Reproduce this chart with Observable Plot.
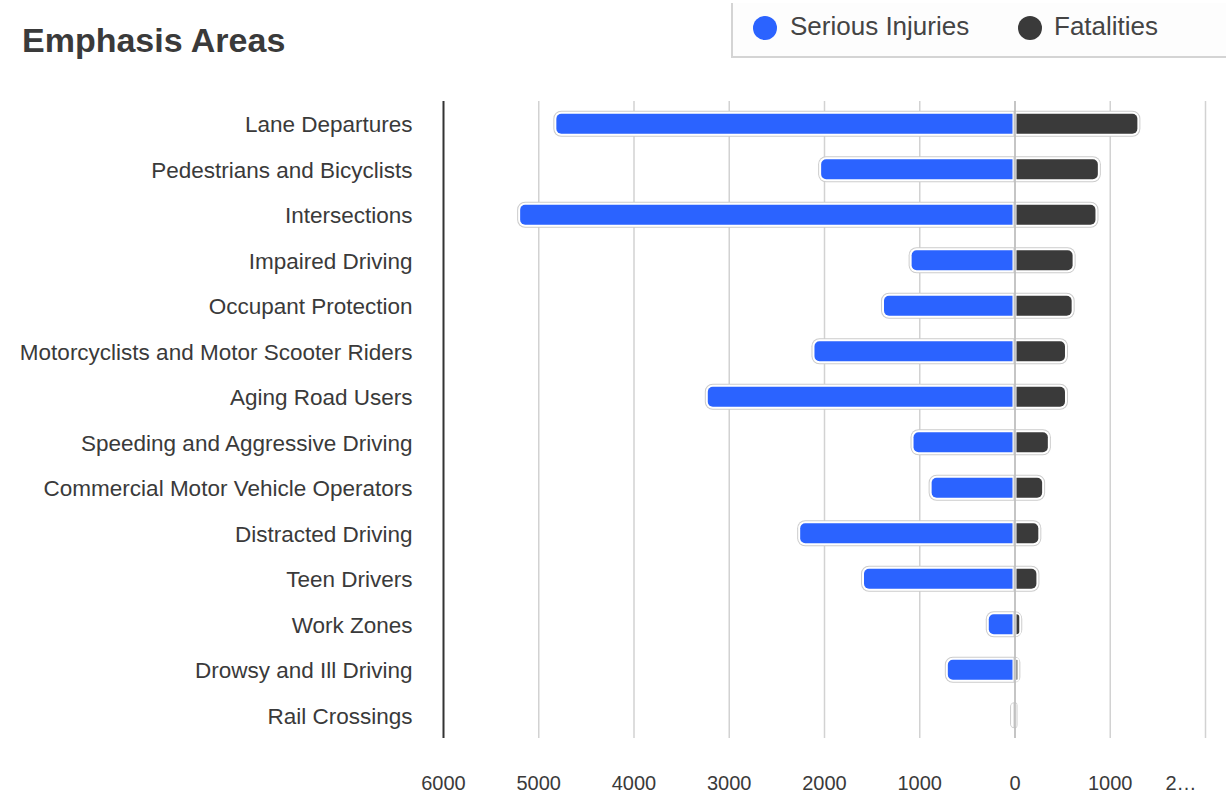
<!DOCTYPE html>
<html>
<head>
<meta charset="utf-8">
<script src="https://cdn.jsdelivr.net/npm/d3@7"></script>
<script src="https://cdn.jsdelivr.net/npm/@observablehq/plot@0.6"></script>
<style>
  html, body { margin: 0; padding: 0; background: #fff; }
  #wrap { position: relative; width: 1226px; height: 795px; overflow: hidden; font-family: "Liberation Sans", Arial, sans-serif; }
  #title { position: absolute; left: 22px; top: 23px; font-size: 34px; line-height: 1; font-weight: bold; color: #3a3a3a; }
  #legend { position: absolute; left: 731px; top: 3px; width: 495px; height: 55px; background: #fdfdfd;
            border-left: 2px solid #d4d4d4; border-bottom: 2px solid #d4d4d4; box-sizing: border-box; }
  .dot { position: absolute; width: 24px; height: 24px; border-radius: 50%; top: 13px; }
  .lab { position: absolute; top: 8px; font-size: 26px; line-height: 1.2; color: #444; }
  #chart { position: absolute; left: 0; top: 0; }
</style>
</head>
<body>
<div id="wrap">
  <div id="chart"></div>
  <div id="title">Emphasis Areas</div>
  <div id="legend"></div>
</div>
<script>
const categories = [
  "Lane Departures",
  "Pedestrians and Bicyclists",
  "Intersections",
  "Impaired Driving",
  "Occupant Protection",
  "Motorcyclists and Motor Scooter Riders",
  "Aging Road Users",
  "Speeding and Aggressive Driving",
  "Commercial Motor Vehicle Operators",
  "Distracted Driving",
  "Teen Drivers",
  "Work Zones",
  "Drowsy and Ill Driving",
  "Rail Crossings"
];
const seriousInjuries = [4810, 2030, 5190, 1080, 1370, 2100, 3220, 1060, 870, 2250, 1580, 270, 700, 15];
const fatalities = [1290, 875, 850, 610, 600, 530, 530, 350, 290, 250, 230, 50, 30, 0];
const xTicks = [-6000, -5000, -4000, -3000, -2000, -1000, 0, 1000, 2000];
const seriesNames = ["Serious Injuries", "Fatalities"];
const seriesColors = ["#2b63ff", "#3a3a3a"];

const rows = categories.map((c, i) => ({category: c, inj: seriousInjuries[i], fat: fatalities[i]}));

// legend
const legend = document.getElementById("legend");
const legendPos = [{dot: 20, lab: 57}, {dot: 285, lab: 321}];
seriesNames.forEach((name, i) => {
  const d = document.createElement("div");
  d.className = "dot"; d.style.left = legendPos[i].dot + "px"; d.style.background = seriesColors[i];
  legend.appendChild(d);
  const t = document.createElement("div");
  t.className = "lab"; t.style.left = legendPos[i].lab + "px"; t.textContent = name;
  legend.appendChild(t);
});

const blueX = {y: "category", x1: d => -d.inj, x2: () => 0};
const darkX = {y: "category", x1: () => 0, x2: d => d.fat};

const fmt = d => String(Math.abs(d));

const chart = Plot.plot({
  width: 1226,
  height: 795,
  marginTop: 101,
  marginBottom: 57,
  marginLeft: 443,
  marginRight: 21,
  style: {fontFamily: "'Liberation Sans', Arial, sans-serif", background: "transparent"},
  x: {domain: [-6000, 2000], axis: null},
  y: {domain: categories, paddingInner: 0.56, paddingOuter: 0.28, round: false, axis: null},
  marks: [
    Plot.ruleX(xTicks.filter(d => d > -6000), {stroke: "#d2d2d2", strokeWidth: 1.5}),
    // serious injuries (outline + fill)
    Plot.barX(rows, {...blueX, fill: "#cccccc", insetLeft: -3, insetTop: -3, insetBottom: -3, insetRight: 0, rx1: 8}),
    Plot.barX(rows, {...blueX, fill: "#ffffff", insetLeft: -2, insetTop: -2, insetBottom: -2, insetRight: 1, rx1: 7}),
    Plot.barX(rows, {...blueX, fill: seriesColors[0], insetRight: 2, rx1: 5}),
    // fatalities (outline + fill)
    Plot.barX(rows, {...darkX, fill: "#cccccc", insetRight: -3, insetTop: -3, insetBottom: -3, insetLeft: 0, rx2: 8}),
    Plot.barX(rows, {...darkX, fill: "#ffffff", insetRight: -2, insetTop: -2, insetBottom: -2, insetLeft: 1, rx2: 7}),
    Plot.barX(rows, {...darkX, fill: seriesColors[1], insetLeft: 2, rx2: 5}),
    Plot.ruleX([0], {stroke: "#bdbdbd", strokeWidth: 1.5}),
    Plot.ruleX([-6000], {stroke: "#333333", strokeWidth: 2}),
    // category labels
    Plot.text(categories, {x: () => -6000, y: d => d, text: d => d, textAnchor: "end", dx: -31, dy: 1, fontSize: 22.5, fill: "#3a3a3a"}),
    // x tick labels
    Plot.text(xTicks.filter(d => d < 2000), {x: d => d, text: fmt, frameAnchor: "bottom", dy: 51, fontSize: 20, fill: "#3a3a3a"}),
    Plot.text(xTicks.filter(d => d === 2000), {x: d => d, text: () => "2…", frameAnchor: "bottom", dy: 51, dx: -40, textAnchor: "start", fontSize: 20, fill: "#3a3a3a"})
  ]
});
document.getElementById("chart").appendChild(chart);
</script>
</body>
</html>
